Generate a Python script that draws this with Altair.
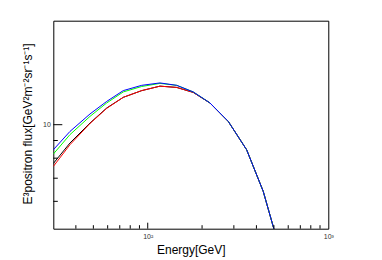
import altair as alt
import pandas as pd

# ---- data ----
energy = [30, 37.1, 47.9, 59.3, 73.2, 92.6, 116.9, 144.7, 178.7, 221.1, 279.3, 353.1, 436.3, 520]
flux_black = [7.72, 8.85, 10.11, 11.18, 12.0, 12.55, 12.93, 12.82, 12.40, 11.56, 10.22, 8.46, 6.41, 4.64]
flux_red = [7.57, 8.75, 10.08, 11.15, 12.0, 12.55, 12.93, 12.82, 12.40, 11.56, 10.22, 8.46, 6.41, 4.64]
flux_green = [8.22, 9.36, 10.57, 11.56, 12.44, 12.90, 13.17, 13.0, 12.44, 11.56, 10.22, 8.46, 6.41, 4.64]
flux_blue = [8.46, 9.56, 10.74, 11.68, 12.55, 13.0, 13.21, 13.0, 12.44, 11.56, 10.22, 8.46, 6.41, 4.64]

series = [("black", "#000000", flux_black), ("red", "#ff0000", flux_red),
          ("green", "#00ff00", flux_green), ("blue", "#0000ff", flux_blue)]

x_major = [100, 1000]
x_minor = [40, 50, 60, 70, 80, 90, 200, 300, 400, 500, 600, 700, 800, 900]
y_major = [10]
y_minor = [6, 7, 8, 9]

W, H = 275, 208
FONT = "Liberation Sans"

xscale = alt.Scale(type="log", domain=[30, 1000], nice=False)
yscale = alt.Scale(type="log", domain=[5, 20], nice=False)

x_axis = alt.Axis(values=x_major, labelExpr="datum.value == 100 ? '10²' : '10³'",
                  ticks=False, domain=False, grid=False, labelFlush=False, labelOverlap=False,
                  labelFontSize=7, labelColor="#333333", labelPadding=4, labelFont=FONT,
                  title="Energy[GeV]", titleFont=FONT, titleFontSize=12, titleFontWeight="normal",
                  titleColor="#000000", titleY=25, titleBaseline="alphabetic")
y_axis = alt.Axis(values=y_major, labelExpr="'10'",
                  ticks=False, domain=False, grid=False, labelFlush=False, labelOverlap=False,
                  labelFontSize=7, labelColor="#333333", labelPadding=3, labelFont=FONT,
                  title="E³positron flux[GeV²m⁻²sr⁻¹s⁻¹]", titleFont=FONT, titleFontSize=12,
                  titleFontWeight="normal", titleColor="#000000", titleAngle=270,
                  titleX=-21.6, titleY=102.7, titleAlign="center", titleBaseline="alphabetic")

X = lambda: alt.X("E:Q", scale=xscale, axis=x_axis)
Y = lambda: alt.Y("F:Q", scale=yscale, axis=y_axis)

layers = []
for name, col, vals in series:
    df = pd.DataFrame({"E": energy, "F": vals})
    layers.append(
        alt.Chart(df).mark_line(color=col, strokeWidth=1, clip=True).encode(x=X(), y=Y())
    )

def xticks(vals, length):
    return alt.Chart(pd.DataFrame({"E": vals})).mark_rule(color="#000000", strokeWidth=1).encode(
        x=X(), y=alt.value(H), y2=alt.value(H - length))

def yticks(vals, length):
    return alt.Chart(pd.DataFrame({"F": vals})).mark_rule(color="#000000", strokeWidth=1).encode(
        y=Y(), x=alt.value(0), x2=alt.value(length))

layers += [xticks([100], 6), xticks(x_minor, 3.5), yticks(y_major, 9), yticks(y_minor, 4.5)]

chart = alt.layer(*layers).properties(
    width=W, height=H,
    autosize="none",
    padding={"left": 45.3, "top": 12.7, "right": 20, "bottom": 28},
    background="white",
).configure_view(stroke="#000000", strokeWidth=1)

chart.save("out.html", embed_options={"renderer": "svg", "actions": False})
